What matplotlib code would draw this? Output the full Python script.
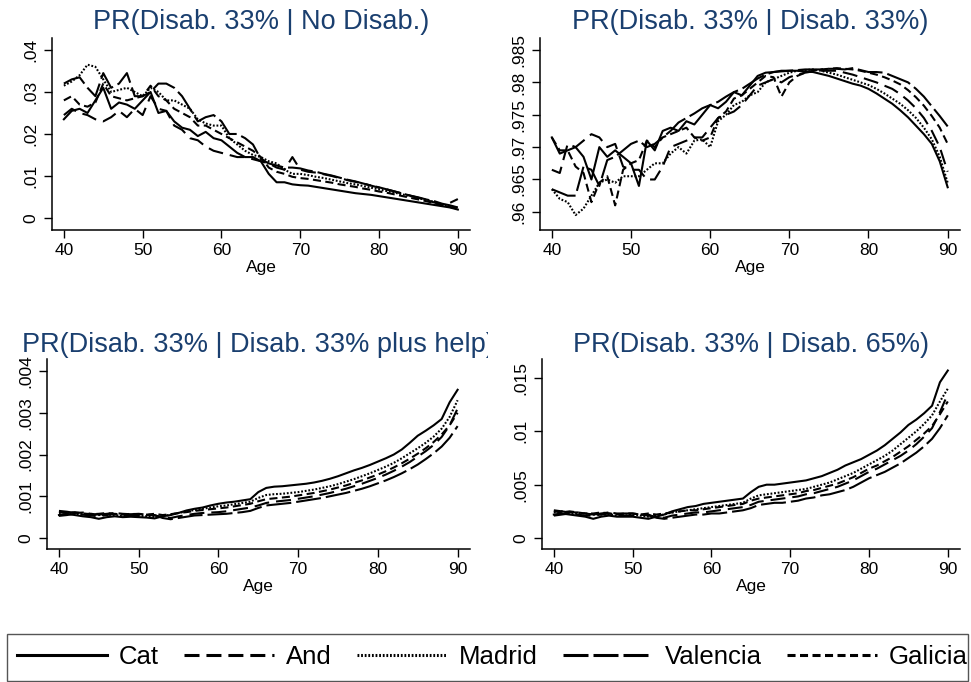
import numpy as np
import matplotlib
matplotlib.use("Agg")
import matplotlib.pyplot as plt
from matplotlib.lines import Line2D
from matplotlib.patches import Rectangle
from matplotlib.transforms import Bbox, TransformedBbox

plt.rcParams['font.family'] = ['Liberation Sans', 'DejaVu Sans']
plt.rcParams['lines.scale_dashes'] = False

age = np.arange(40, 91)
regions = ["Cat", "And", "Madrid", "Valencia", "Galicia"]

# --- PR(Disab. 33% | No Disab.) ---
nd_cat = [.0235, .0255, .026, .025, .028, .031, .026, .0275, .027, .026,
          .028, .030, .025, .0255, .023, .0215, .021, .0195, .0205, .019,
          .0185, .017, .0155, .0145, .0145, .0135, .0105, .0085, .0085, .008,
          .0078, .0077, .0074, .0071, .0068, .0065, .0062, .0059, .0057, .0055,
          .0052, .0049, .0046, .0043, .0040, .0037, .0034, .0031, .0028, .0025, .0020]
nd_and = [.0245, .026, .025, .0245, .0235, .023, .024, .0255, .024, .026,
          .0245, .029, .026, .0255, .022, .021, .019, .0185, .017, .016,
          .0155, .015, .0145, .0145, .014, .0135, .013, .012, .0115, .0145,
          .0115, .011, .0108, .0104, .010, .0095, .009, .0086, .0082, .0077,
          .0072, .0068, .0063, .0058, .0053, .0048, .0043, .0037, .0032, .0036, .0045]
nd_mad = [.0315, .0325, .034, .0365, .036, .033, .030, .0305, .031, .030,
          .029, .031, .030, .028, .028, .027, .026, .0235, .0225, .022,
          .022, .019, .0175, .016, .015, .0145, .0135, .013, .0115, .0105,
          .0105, .0102, .0098, .0095, .0091, .0087, .0083, .008, .0076, .0072,
          .0068, .0064, .006, .0056, .0052, .0047, .0043, .0038, .0033, .0028, .0024]
nd_val = [.032, .033, .0335, .031, .029, .0345, .031, .032, .0345, .029,
          .029, .030, .032, .032, .031, .029, .026, .023, .024, .0245,
          .023, .020, .020, .019, .0175, .014, .013, .0125, .012, .012,
          .0118, .0113, .011, .0105, .0101, .0096, .0091, .0087, .0082, .0077,
          .0073, .0068, .0063, .0058, .0053, .0049, .0044, .004, .0034, .003, .0025]
nd_gal = [.028, .029, .027, .0265, .0275, .032, .029, .0285, .028, .0285,
          .029, .0315, .029, .028, .026, .025, .024, .022, .022, .021,
          .020, .019, .018, .017, .016, .0145, .012, .011, .0105, .0098,
          .0095, .0093, .009, .0087, .0084, .008, .0077, .0074, .007, .0067,
          .0063, .006, .0056, .0052, .0048, .0044, .004, .0035, .003, .0026, .0022]

# --- PR(Disab. 33% | Disab. 33%) ---
d33_cat = [.9715, .969, .9695, .970, .9685, .965, .970, .9685, .9695, .9685,
           .9675, .964, .971, .9695, .9725, .973, .9725, .974, .9735, .975,
           .9765, .976, .977, .9785, .978, .9795, .981, .9815, .9816, .9817,
           .9818, .9818, .9817, .9816, .9813, .981, .9806, .9802, .9798, .9795,
           .979, .9783, .9775, .9767, .9757, .9746, .9733, .972, .9705, .9678, .9638]
d33_and = [.9665, .966, .9705, .970, .971, .972, .9715, .970, .9705, .967,
           .9665, .9665, .965, .965, .967, .970, .9705, .971, .9715, .9715,
           .973, .9745, .975, .9755, .9765, .978, .9795, .980, .9805, .980,
           .9808, .9812, .9815, .9817, .9818, .9818, .9818, .9815, .9812, .9808,
           .9804, .980, .9795, .979, .9782, .9772, .976, .9745, .9725, .970, .9662]
d33_mad = [.9635, .962, .9615, .9595, .9605, .9625, .9645, .965, .9645, .9655,
           .9655, .9655, .9665, .9675, .9675, .969, .970, .969, .971, .9712,
           .970, .974, .975, .9765, .977, .978, .9785, .980, .9805, .981,
           .9815, .9818, .9819, .982, .9818, .9815, .9812, .9808, .9804, .980,
           .9796, .979, .9783, .9775, .9767, .9757, .9745, .973, .9712, .9685, .9645]
d33_val = [.9635, .963, .9625, .9625, .967, .9665, .964, .968, .9685, .9695,
           .9705, .971, .970, .9705, .9715, .9725, .9738, .9745, .9752, .976,
           .9765, .977, .9778, .9785, .979, .9798, .9806, .9812, .9816, .9818,
           .9818, .9819, .982, .982, .982, .9821, .9821, .982, .9822, .9819,
           .9816, .9816, .9815, .981, .9805, .980, .979, .9778, .9763, .9748, .9732]
d33_gal = [.9715, .9695, .9695, .967, .966, .9615, .9645, .9655, .961, .9665,
           .9675, .968, .971, .970, .9715, .972, .9725, .973, .9715, .971,
           .9715, .9745, .9755, .9775, .978, .979, .980, .981, .9808, .9778,
           .980, .981, .9815, .9818, .982, .9821, .9822, .9821, .982, .9818,
           .9815, .9812, .9808, .9803, .9797, .9788, .9777, .9764, .9748, .973, .9705]

# --- PR(Disab. 33% | Disab. 33% plus help) ---
dh_cat = [.00055, .00058, .00055, .00052, .00050, .00046, .00050, .00052, .00050, .00051,
          .00050, .00049, .00047, .00052, .00055, .00060, .00066, .00070, .00073, .00078,
          .00082, .00085, .00087, .00090, .00093, .00110, .00120, .00123, .00124, .00126,
          .00128, .00130, .00133, .00137, .00142, .00148, .00155, .00162, .00168, .00175,
          .00183, .00191, .00200, .00212, .00228, .00245, .00257, .00270, .00285, .00325, .00355]
dh_and = [.00053, .00055, .00058, .00056, .00054, .00052, .00055, .00058, .00056, .00054,
          .00053, .00055, .00054, .00050, .00048, .00052, .00055, .00058, .00060, .00061,
          .00062, .00064, .00067, .00070, .00073, .00078, .00084, .00087, .00089, .00091,
          .00094, .00097, .00100, .00104, .00108, .00113, .00118, .00124, .00130, .00137,
          .00144, .00152, .00161, .00171, .00182, .00195, .00208, .00223, .00242, .00270, .00310]
dh_mad = [.00060, .00062, .00058, .00057, .00058, .00055, .00056, .00055, .00053, .00053,
          .00054, .00052, .00050, .00052, .00056, .00060, .00064, .00067, .00070, .00073,
          .00076, .00078, .00081, .00084, .00087, .00096, .00103, .00105, .00106, .00108,
          .00110, .00113, .00116, .00120, .00124, .00129, .00135, .00141, .00148, .00155,
          .00163, .00171, .00180, .00191, .00203, .00215, .00228, .00243, .00262, .00290, .00330]
dh_val = [.00065, .00063, .00060, .00061, .00058, .00056, .00058, .00060, .00058, .00057,
          .00058, .00056, .00055, .00048, .00045, .00048, .00051, .00054, .00055, .00056,
          .00057, .00058, .00060, .00062, .00065, .00072, .00078, .00080, .00082, .00084,
          .00087, .00090, .00093, .00096, .00100, .00104, .00108, .00113, .00118, .00124,
          .00131, .00138, .00146, .00155, .00165, .00176, .00189, .00203, .00219, .00240, .00268]
dh_gal = [.00062, .00060, .00062, .00059, .00057, .00058, .00060, .00057, .00056, .00058,
          .00057, .00056, .00058, .00055, .00057, .00060, .00062, .00065, .00067, .00069,
          .00071, .00073, .00076, .00079, .00082, .00088, .00093, .00095, .00097, .00099,
          .00102, .00105, .00108, .00112, .00116, .00121, .00126, .00132, .00138, .00145,
          .00152, .00160, .00169, .00179, .00190, .00202, .00215, .00230, .00248, .00270, .00300]

# --- PR(Disab. 33% | Disab. 65%) ---
d65_cat = [.0022, .0023, .0022, .0021, .0020, .0018, .0020, .0021, .0020, .0020,
           .0020, .0019, .0018, .0020, .0022, .0025, .0027, .0029, .0030, .0032,
           .0033, .0034, .0035, .0036, .0037, .0043, .0048, .0050, .0050, .0051,
           .0052, .0053, .0054, .0056, .0058, .0061, .0064, .0068, .0071, .0074,
           .0078, .0082, .0087, .0093, .0099, .0106, .0111, .0117, .0124, .0146, .0157]
d65_and = [.0021, .0022, .0023, .0022, .0021, .0021, .0022, .0023, .0022, .0021,
           .0021, .0022, .0021, .0020, .0019, .0021, .0022, .0023, .0024, .0024,
           .0025, .0026, .0027, .0028, .0029, .0031, .0034, .0035, .0036, .0037,
           .0038, .0039, .0041, .0042, .0044, .0046, .0048, .0051, .0054, .0058,
           .0062, .0065, .0069, .0073, .0077, .0082, .0088, .0095, .0103, .0118, .0135]
d65_mad = [.0024, .0025, .0023, .0023, .0023, .0022, .0022, .0022, .0021, .0021,
           .0022, .0021, .0020, .0021, .0022, .0024, .0025, .0026, .0027, .0028,
           .0029, .0030, .0031, .0032, .0033, .0037, .0040, .0041, .0042, .0043,
           .0044, .0045, .0046, .0048, .0050, .0052, .0055, .0058, .0061, .0065,
           .0069, .0073, .0077, .0082, .0088, .0094, .0100, .0107, .0115, .0128, .0140]
d65_val = [.0026, .0025, .0024, .0024, .0023, .0022, .0023, .0024, .0023, .0023,
           .0023, .0022, .0022, .0019, .0018, .0019, .0020, .0021, .0022, .0022,
           .0023, .0023, .0024, .0025, .0026, .0028, .0031, .0032, .0033, .0033,
           .0034, .0035, .0037, .0038, .0040, .0041, .0043, .0045, .0048, .0052,
           .0056, .0059, .0062, .0066, .0070, .0075, .0080, .0086, .0093, .0103, .0115]
d65_gal = [.0025, .0024, .0025, .0024, .0023, .0023, .0024, .0023, .0022, .0023,
           .0023, .0022, .0023, .0022, .0023, .0024, .0025, .0026, .0026, .0027,
           .0028, .0029, .0030, .0031, .0032, .0035, .0037, .0038, .0039, .0040,
           .0041, .0042, .0044, .0045, .0047, .0049, .0051, .0054, .0057, .0061,
           .0065, .0068, .0072, .0076, .0081, .0086, .0092, .0098, .0105, .0116, .0128]

titles = ["PR(Disab. 33% | No Disab.)", "PR(Disab. 33% | Disab. 33%)",
          "PR(Disab. 33% | Disab. 33% plus help)", "PR(Disab. 33% | Disab. 65%)"]
panel_data = [
    [nd_cat, nd_and, nd_mad, nd_val, nd_gal],
    [d33_cat, d33_and, d33_mad, d33_val, d33_gal],
    [dh_cat, dh_and, dh_mad, dh_val, dh_gal],
    [d65_cat, d65_and, d65_mad, d65_val, d65_gal],
]
ytick_vals = [
    [0, .01, .02, .03, .04],
    [.96, .965, .97, .975, .98, .985],
    [0, .001, .002, .003, .004],
    [0, .005, .01, .015],
]
ytick_labels = [
    ["0", ".01", ".02", ".03", ".04"],
    [".96", ".965", ".97", ".975", ".98", ".985"],
    ["0", ".001", ".002", ".003", ".004"],
    ["0", ".005", ".01", ".015"],
]
xtick_vals = [40, 50, 60, 70, 80, 90]

# styles
dash_styles = [None, (10.8, 5.0), (1.3, 1.3), (18, 3.6), (5.8, 3.2)]
ylims = [(-0.00286, 0.04286), (0.9572, 0.98686), (-0.000263, 0.004287), (-0.00103, 0.01678)]
positions = [
    [0.0536, 0.6628, 0.4305, 0.2815],
    [0.5561, 0.6628, 0.4325, 0.2815],
    [0.0484, 0.1950, 0.4356, 0.2786],
    [0.5582, 0.1950, 0.4305, 0.2786],
]
title_pads = [6.5, 6.5, 5, 5]
title_color = "#1a3f6f"

fig = plt.figure(figsize=(9.71, 6.82), dpi=100)

for k in range(4):
    ax = fig.add_axes(positions[k])
    for series, ds in zip(panel_data[k], dash_styles):
        line, = ax.plot(age, series, color="black", lw=1.5)
        if ds is not None:
            line.set_dashes(ds)
    ax.set_xlim(38.5, 91.55)
    ax.set_ylim(*ylims[k])
    ax.set_xticks(xtick_vals)
    ax.set_xticklabels([str(v) for v in xtick_vals])
    ax.set_yticks(ytick_vals[k])
    ax.set_yticklabels(ytick_labels[k], rotation=90, va="center")
    ax.spines["top"].set_visible(False)
    ax.spines["right"].set_visible(False)
    for s in ("left", "bottom"):
        ax.spines[s].set_linewidth(1.1)
    ax.tick_params(length=5.5, width=1.0, labelsize=12.5, pad=4)
    ax.set_xlabel("Age", fontsize=12.5, labelpad=1)
    t = ax.set_title(titles[k], color=title_color, fontsize=19.5, pad=title_pads[k])
    if k == 2:
        t.set_clip_on(True)
        t.set_clip_box(TransformedBbox(Bbox([[0, 0], [488 / 971, 1]]), fig.transFigure))

# legend
handles = []
for name, ds in zip(regions, dash_styles):
    h = Line2D([], [], color="black", lw=2.2)
    if ds is not None:
        h.set_dashes(ds)
    handles.append(h)
fig.patches.append(Rectangle((7 / 971, 1 - 681 / 682), 961 / 971, 47 / 682,
                             transform=fig.transFigure, fill=False,
                             edgecolor="#555555", lw=1.0))
fig.legend(handles, regions, loc="center left",
           bbox_to_anchor=(17 / 971, 1 - 657 / 682), ncol=5, frameon=False,
           fontsize=18.5, handlelength=3.5, handletextpad=0.45,
           columnspacing=1.0, borderpad=0, borderaxespad=0)

fig.savefig("out.png", dpi=100)
